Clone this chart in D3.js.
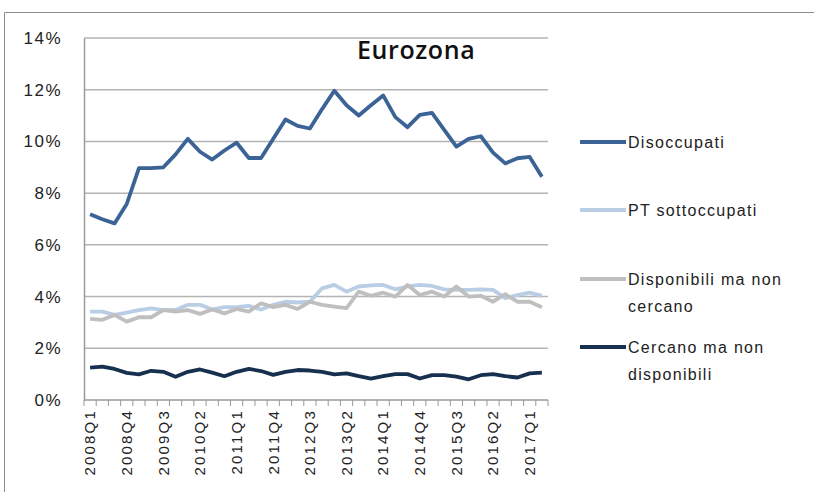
<!DOCTYPE html>
<html lang="it">
<head>
<meta charset="UTF-8">
<title>Eurozona</title>
<script src="https://d3js.org/d3.v7.min.js"></script>
<style>
  body { margin: 0; background: #fff; }
  svg text { font-family: "Liberation Sans", Arial, sans-serif; fill: #222; }
  svg text.title { font-family: "Open Sans", sans-serif; font-weight: 600; font-size: 25px; letter-spacing: 0.6px; fill: #111; }
</style>
</head>
<body>
<div id="chart"></div>
<script>
// quarters 2008Q1 .. 2017Q2
var quarters = [];
for (var yr = 2008; yr <= 2017; yr++) {
  for (var q = 1; q <= 4; q++) {
    if (yr == 2017 && q > 2) break;
    quarters.push(yr + "Q" + q);
  }
}

var disoccupati = [7.18, 6.99, 6.83, 7.58, 8.97, 8.97, 9.0, 9.5, 10.1, 9.6, 9.3, 9.65, 9.95, 9.36, 9.36, 10.1,
  10.85, 10.6, 10.5, 11.25, 11.96, 11.4, 11.0, 11.4, 11.78, 10.94, 10.55, 11.03, 11.1, 10.45, 9.8, 10.1,
  10.2, 9.57, 9.15, 9.35, 9.4, 8.63];
var ptSottoccupati = [3.42, 3.42, 3.29, 3.38, 3.48, 3.54, 3.48, 3.48, 3.68, 3.68, 3.5, 3.59, 3.59, 3.64, 3.5, 3.68,
  3.8, 3.77, 3.8, 4.32, 4.45, 4.19, 4.39, 4.43, 4.45, 4.28, 4.39, 4.45, 4.41, 4.28, 4.26, 4.26,
  4.28, 4.26, 3.94, 4.06, 4.15, 4.03];
var disponibili = [3.14, 3.1, 3.29, 3.03, 3.2, 3.2, 3.48, 3.42, 3.48, 3.33, 3.5, 3.35, 3.52, 3.42, 3.74, 3.59,
  3.68, 3.52, 3.8, 3.68, 3.61, 3.55, 4.19, 4.03, 4.15, 4.0, 4.45, 4.06, 4.19, 4.0, 4.39, 4.0,
  4.03, 3.8, 4.09, 3.8, 3.8, 3.59];
var cercano = [1.25, 1.29, 1.2, 1.05, 0.99, 1.13, 1.09, 0.9, 1.09, 1.18, 1.06, 0.92, 1.09, 1.2, 1.12, 0.97,
  1.09, 1.16, 1.14, 1.09, 0.99, 1.03, 0.92, 0.83, 0.92, 1.0, 1.0, 0.83, 0.96, 0.96, 0.9, 0.8,
  0.96, 1.0, 0.92, 0.87, 1.03, 1.06];

var yTicks = [0, 2, 4, 6, 8, 10, 12, 14];

var series = [
  { name: ["Disoccupati"], values: disoccupati, color: "#3b6396" },
  { name: ["PT sottoccupati"], values: ptSottoccupati, color: "#b9cde5" },
  { name: ["Disponibili ma non", "cercano"], values: disponibili, color: "#bfbfbf" },
  { name: ["Cercano ma non", "disponibili"], values: cercano, color: "#17304f" }
];

var width = 814, height = 492;
var plotLeft = 84, plotRight = 548, plotTop = 38, plotBottom = 400;

var svg = d3.select("#chart").append("svg")
  .attr("width", width)
  .attr("height", height);

// frame
svg.append("path")
  .attr("d", "M4.5," + height + " V12.5 H" + width)
  .attr("fill", "none")
  .attr("stroke", "#8c8c8c")
  .attr("stroke-width", 1);

var x = d3.scaleBand().domain(quarters).range([plotLeft, plotRight]);
var y = d3.scaleLinear().domain([0, 14]).range([plotBottom, plotTop]);

// gridlines
svg.append("g")
  .selectAll("line")
  .data(yTicks.filter(function(d) { return d > 0; }))
  .enter().append("line")
  .attr("x1", plotLeft).attr("x2", plotRight)
  .attr("y1", function(d) { return y(d); })
  .attr("y2", function(d) { return y(d); })
  .attr("stroke", "#b4b4b4")
  .attr("stroke-width", 1.5);

// y axis
var yAxis = d3.axisLeft(y)
  .tickValues(yTicks)
  .tickSize(0)
  .tickPadding(22)
  .tickFormat(function(d) { return d + "%"; });
var gy = svg.append("g")
  .attr("transform", "translate(" + plotLeft + ",0)")
  .call(yAxis);
gy.select(".domain").attr("stroke", "#9a9a9a").attr("stroke-width", 1.5);
gy.selectAll("text")
  .attr("font-size", "17px")
  .attr("letter-spacing", "1.5px")
  .attr("fill", "#222");

// x axis
var labelQuarters = quarters.filter(function(d, i) { return i % 3 == 0; });
var xAxis = d3.axisBottom(x)
  .tickValues(labelQuarters)
  .tickSize(0)
  .tickPadding(0);
var gx = svg.append("g")
  .attr("transform", "translate(0," + plotBottom + ")")
  .call(xAxis);
gx.select(".domain").remove();
gx.selectAll("text")
  .attr("font-size", "15px")
  .attr("letter-spacing", "2.2px")
  .attr("fill", "#222")
  .attr("text-anchor", "end")
  .attr("transform", "rotate(-90)")
  .attr("x", -9)
  .attr("y", 0)
  .attr("dy", "0.35em");

// axis baseline and ticks between categories
svg.append("line")
  .attr("x1", plotLeft).attr("x2", plotRight)
  .attr("y1", plotBottom).attr("y2", plotBottom)
  .attr("stroke", "#9a9a9a").attr("stroke-width", 1.5);
svg.append("g")
  .selectAll("line")
  .data(quarters.concat(["end"]))
  .enter().append("line")
  .attr("x1", function(d, i) { return plotLeft + i * x.step(); })
  .attr("x2", function(d, i) { return plotLeft + i * x.step(); })
  .attr("y1", plotBottom).attr("y2", plotBottom + 6)
  .attr("stroke", "#9a9a9a").attr("stroke-width", 1);

// lines
var line = d3.line()
  .x(function(d, i) { return x(quarters[i]) + x.bandwidth() / 2; })
  .y(function(d) { return y(d); });

[1, 2, 3, 0].forEach(function(k) {
  svg.append("path")
    .datum(series[k].values)
    .attr("fill", "none")
    .attr("stroke", series[k].color)
    .attr("stroke-width", 3.8)
    .attr("stroke-linejoin", "round")
    .attr("d", line);
});

// title
svg.append("text")
  .attr("class", "title")
  .attr("x", 357).attr("y", 59)
  .text("Eurozona");

// legend
var legY = [142, 210, 279, 347];
var leg = svg.append("g");
series.forEach(function(s, i) {
  leg.append("line")
    .attr("x1", 580).attr("x2", 626)
    .attr("y1", legY[i]).attr("y2", legY[i])
    .attr("stroke", s.color).attr("stroke-width", 3.8);
  s.name.forEach(function(t, j) {
    leg.append("text")
      .attr("x", 628).attr("y", legY[i] + 6 + j * 27)
      .attr("font-size", "16px")
      .attr("letter-spacing", "1.3px")
      .text(t);
  });
});
</script>
</body>
</html>
